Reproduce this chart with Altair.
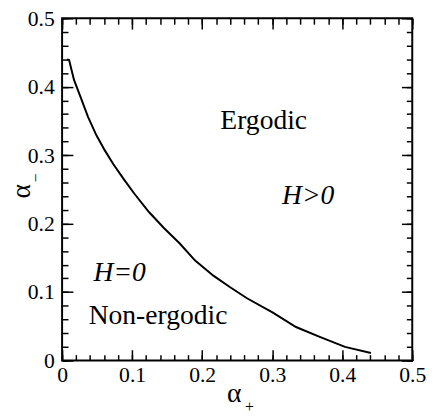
import altair as alt
import pandas as pd

# boundary curve alpha_- (alpha_+)
alpha_plus = [0.007, 0.010, 0.017, 0.026, 0.037, 0.049, 0.061, 0.073, 0.088, 0.103,
              0.124, 0.145, 0.168, 0.190, 0.216, 0.240, 0.264, 0.301, 0.334, 0.367,
              0.404, 0.441]
alpha_minus = [0.440, 0.439, 0.410, 0.386, 0.356, 0.329, 0.307, 0.287, 0.265, 0.244,
               0.217, 0.194, 0.171, 0.146, 0.124, 0.107, 0.091, 0.070, 0.049, 0.035,
               0.020, 0.011]

# region annotations
label_text = ["Ergodic", "H>0", "H=0", "Non-ergodic"]
label_x = [0.226, 0.314, 0.045, 0.038]
label_y = [0.3376, 0.2284, 0.1168, 0.0532]
label_italic = [False, True, True, False]

major_ticks = [0, 0.1, 0.2, 0.3, 0.4, 0.5]
minor_ticks = [0, 0.02, 0.04, 0.06, 0.08, 0.1, 0.12, 0.14, 0.16, 0.18, 0.2,
               0.22, 0.24, 0.26, 0.28, 0.3, 0.32, 0.34, 0.36, 0.38, 0.4,
               0.42, 0.44, 0.46, 0.48, 0.5]

curve_df = pd.DataFrame({"ap": alpha_plus, "am": alpha_minus})
label_df = pd.DataFrame({"ap": label_x, "am": label_y, "t": label_text,
                         "it": label_italic})

FONT = "Liberation Serif"
xs = alt.Scale(domain=[0, 0.5], nice=False, zero=False)
ys = alt.Scale(domain=[0, 0.5], nice=False, zero=False)

common = dict(domain=False, grid=False, tickColor="black", tickWidth=1.5,
              labelFont=FONT, labelFontSize=22, labelColor="black",
              labelFlush=False, labelOverlap=False, titleFont=FONT,
              titleFontWeight="normal", titleColor="black")

ax_bottom_major = alt.Axis(orient="bottom", values=major_ticks, format="~g",
                           tickSize=11, offset=-11, labelPadding=4,
                           title="α", titleFontSize=28, titleX=174.5, titleY=53,
                           titleAlign="center", titleBaseline="alphabetic",
                           titleAngle=0, **common)
ax_bottom_minor = alt.Axis(orient="bottom", values=minor_ticks, labels=False,
                           tickSize=6, offset=-6,
                           title="+", titleFontSize=16, titleX=190, titleY=58,
                           titleAlign="center", titleBaseline="alphabetic",
                           titleAngle=0, **common)
ax_left_major = alt.Axis(orient="left", values=major_ticks, format="~g",
                         tickSize=11, offset=-11, labelPadding=8,
                         title="α", titleFontSize=28, titleX=-44, titleY=175.5,
                         titleAlign="center", titleBaseline="alphabetic",
                         titleAngle=270, **common)
ax_left_minor = alt.Axis(orient="left", values=minor_ticks, labels=False,
                         tickSize=6, offset=-6,
                         title="−", titleFontSize=16, titleX=-28, titleY=161.7,
                         titleAlign="center", titleBaseline="alphabetic",
                         titleAngle=270, **common)
ax_top_major = alt.Axis(orient="top", values=major_ticks, labels=False,
                        tickSize=11, offset=-11, title=None, **common)
ax_top_minor = alt.Axis(orient="top", values=minor_ticks, labels=False,
                        tickSize=6, offset=-6, title=None, **common)
ax_right_major = alt.Axis(orient="right", values=major_ticks, labels=False,
                          tickSize=11, offset=-11, title=None, **common)
ax_right_minor = alt.Axis(orient="right", values=minor_ticks, labels=False,
                          tickSize=6, offset=-6, title=None, **common)

curve = alt.Chart(curve_df).mark_line(color="black", strokeWidth=2).encode(
    x=alt.X("ap:Q", scale=xs, axis=ax_bottom_major),
    y=alt.Y("am:Q", scale=ys, axis=ax_left_major),
)
curve_ghost = alt.Chart(curve_df).mark_line(opacity=0).encode(
    x=alt.X("ap:Q", scale=xs, axis=ax_bottom_minor),
    y=alt.Y("am:Q", scale=ys, axis=ax_left_minor),
)
text_plain = alt.Chart(label_df).transform_filter(
    "!datum.it"
).mark_text(font=FONT, fontSize=28, align="left", baseline="alphabetic",
            color="black").encode(
    x=alt.X("ap:Q", scale=xs, axis=ax_top_major),
    y=alt.Y("am:Q", scale=ys, axis=ax_right_major),
    text="t:N",
)
text_italic = alt.Chart(label_df).transform_filter(
    "datum.it"
).mark_text(font=FONT, fontSize=28, fontStyle="italic", align="left",
            baseline="alphabetic", color="black").encode(
    x=alt.X("ap:Q", scale=xs, axis=ax_top_minor),
    y=alt.Y("am:Q", scale=ys, axis=ax_right_minor),
    text="t:N",
)

chart = alt.layer(curve, curve_ghost, text_plain, text_italic).resolve_axis(
    x="independent", y="independent"
).properties(
    width=356, height=348,
    autosize=alt.AutoSizeParams(type="none"),
    padding={"left": 55, "top": 7, "right": 16, "bottom": 56},
    background="white",
).configure_view(stroke="black", strokeWidth=2)

chart.save("out.html", embed_options={"renderer": "svg", "actions": False})
